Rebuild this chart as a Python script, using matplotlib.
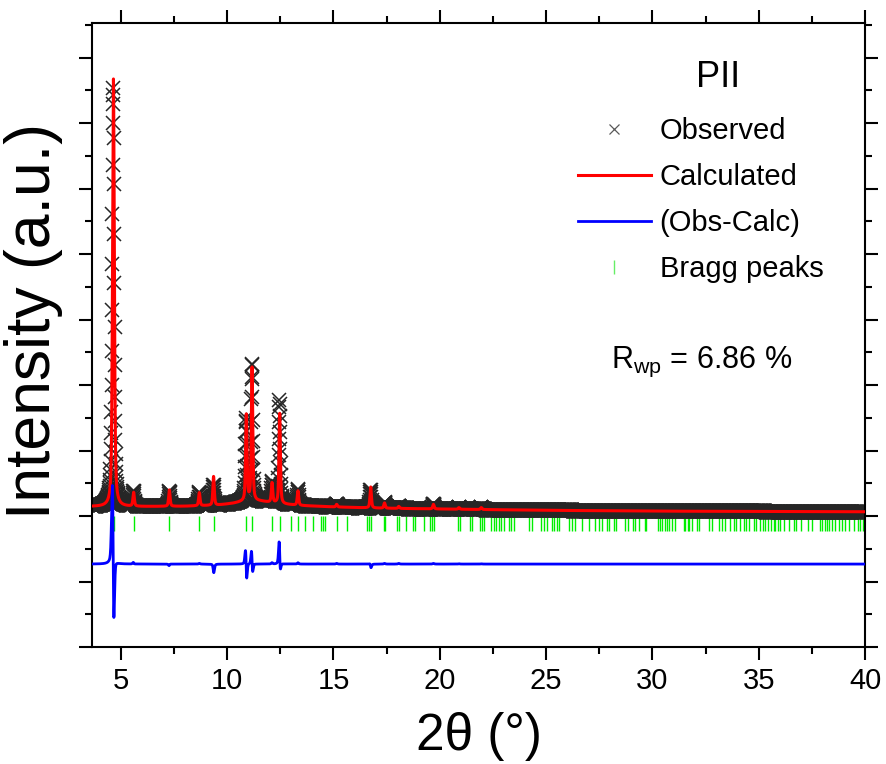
import numpy as np
import matplotlib
matplotlib.use("Agg")
import matplotlib.pyplot as plt
from matplotlib.lines import Line2D
from matplotlib.ticker import MultipleLocator, NullFormatter

plt.rcParams['font.family'] = ['Liberation Sans', 'DejaVu Sans']
plt.rcParams['mathtext.default'] = 'regular'

# scan range and step (degrees 2theta)
two_theta_start = 3.64
two_theta_stop = 40.0
step = 0.01

# refined background, anchor points
bg_x = [3.64, 6.0, 8.0, 9.5, 10.3, 11.0, 11.6, 12.5, 13.5, 15.0, 17.0, 20.0, 25.0, 30.0, 35.0, 40.0]
bg_y = [145, 145, 150, 165, 195, 235, 225, 185, 160, 140, 122, 108, 88, 76, 70, 66]

# calculated reflections: position, height above background, fwhm
calc_pos = [4.65, 5.60, 7.28, 8.69, 9.36, 10.90, 11.17, 12.11, 12.47, 13.33, 15.15,
            16.75, 17.40, 18.07, 19.70, 20.90, 21.95]
calc_height = [6530, 210, 250, 200, 440, 1310, 2030, 300, 1380, 220, 40,
               320, 80, 30, 70, 25, 30]
calc_fwhm = [0.10, 0.08, 0.08, 0.08, 0.08, 0.08, 0.08, 0.08, 0.08, 0.08, 0.08,
             0.08, 0.08, 0.08, 0.08, 0.08, 0.08]

# observed peaks
obs_pos = [4.638, 5.598, 7.282, 8.69, 9.355, 10.89, 11.1655, 12.11, 12.462, 13.33, 15.15,
           16.745, 17.40, 18.07, 19.70, 20.90, 21.95]
obs_height = [6400, 230, 230, 210, 320, 1250, 2090, 320, 1580, 240, 50,
              280, 90, 40, 80, 30, 35]
obs_fwhm = [0.11, 0.08, 0.08, 0.08, 0.08, 0.085, 0.08, 0.08, 0.08, 0.08, 0.08,
            0.08, 0.08, 0.08, 0.08, 0.08, 0.08]

diff_offset = -733

# Bragg reflection positions
bragg_pos = [4.66, 5.60, 7.28, 8.69, 9.36,
             10.90, 11.17, 12.11, 12.47, 13.00, 13.33, 13.67, 14.03, 14.43, 14.51, 14.59,
             15.16, 15.63, 16.58, 16.68, 16.78, 17.36, 17.44, 17.99, 18.07, 18.41, 18.72,
             18.82, 19.24, 19.55, 19.63, 19.71, 20.86, 20.94, 21.43, 21.51, 21.90, 21.98,
             22.06, 22.42, 22.53, 22.64, 22.77, 22.89, 23.00, 23.24, 23.36, 23.47, 24.18,
             24.34, 24.78, 24.89, 25.04, 25.28, 25.36, 25.51, 25.62, 26.09, 26.22, 26.34,
             26.69, 27.03, 27.32, 27.47, 27.63, 27.86, 27.97, 28.18, 28.29, 28.73, 28.85,
             29.07, 29.20, 29.35, 29.64, 29.72, 30.26, 30.37, 30.45, 30.58, 30.69, 30.80,
             30.92, 31.08, 31.47, 31.55, 31.68, 31.74, 31.86, 32.10, 32.21, 32.65, 32.80,
             33.12, 33.27, 33.43, 33.67, 33.82, 33.93, 34.14, 34.29, 34.40, 34.56, 34.76,
             34.87, 35.07, 35.18, 35.31, 35.43, 35.59, 35.70, 35.78, 35.90, 36.01, 36.17,
             36.41, 36.64, 36.75, 37.00, 37.31, 37.53, 37.89, 37.97, 38.10, 38.21, 38.32,
             38.44, 38.57, 38.76, 38.91, 39.07, 39.26, 39.46, 39.67, 39.78, 39.89]


def pseudo_voigt(x, pos, height, fwhm, eta=0.5):
    d = (x - pos) / (fwhm / 2.0)
    lor = 1.0 / (1.0 + d ** 2)
    gau = np.exp(-np.log(2) * d ** 2)
    return height * (eta * lor + (1 - eta) * gau)


tt = np.arange(two_theta_start, two_theta_stop + step / 2, step)
background = np.interp(tt, bg_x, bg_y)

calc = background.copy()
for p, h, w in zip(calc_pos, calc_height, calc_fwhm):
    calc += pseudo_voigt(tt, p, h, w)

obs = background.copy()
for p, h, w in zip(obs_pos, obs_height, obs_fwhm):
    obs += pseudo_voigt(tt, p, h, w)

diff = obs - calc + diff_offset

fig = plt.figure(figsize=(8.86, 7.64), dpi=100)
ax = fig.add_axes([0.1038, 0.1531, 0.8725, 0.8168])

ax.vlines(bragg_pos, -230, 0, colors='#00ee00', lw=1.0, zorder=1)
ax.plot(tt, obs, linestyle='none', marker='x', ms=10, mew=1.1, color='0.15', zorder=2)
ax.plot(tt, calc, color='red', lw=2.2, zorder=3)
ax.plot(tt, diff, color='blue', lw=2.0, zorder=4)

ax.set_xlim(3.64, 40)
ax.set_ylim(-2000, 7530)

ax.xaxis.set_major_locator(MultipleLocator(5))
ax.xaxis.set_minor_locator(MultipleLocator(2.5))
ax.yaxis.set_major_locator(MultipleLocator(1000))
ax.yaxis.set_minor_locator(MultipleLocator(500))
ax.yaxis.set_major_formatter(NullFormatter())

ax.tick_params(which='both', direction='out', top=True, right=True, width=1.5)
ax.tick_params(which='major', length=9.5)
ax.tick_params(which='minor', length=5)
ax.tick_params(axis='x', labelsize=21, pad=5)
for s in ax.spines.values():
    s.set_linewidth(1.5)

ax.set_xlabel('2θ (°)', fontsize=37)
ax.xaxis.set_label_coords(0.5, -0.104)
ax.set_ylabel('Intensity (a.u.)', fontsize=45)
ax.yaxis.set_label_coords(-0.038, 0.522)

handles = [
    Line2D([], [], linestyle='none', marker='x', ms=7, mew=0.9, color='0.35'),
    Line2D([], [], color='red', lw=2.2),
    Line2D([], [], color='blue', lw=2.0),
    Line2D([], [], linestyle='none', marker='|', ms=10, mew=1.0, color='#66ee66'),
]
labels = ['Observed', 'Calculated', '(Obs-Calc)', 'Bragg peaks']
ax.legend(handles, labels, loc='upper left', bbox_to_anchor=(0.6287, 0.849),
          frameon=False, fontsize=21, handlelength=2.5, handletextpad=0.3,
          labelspacing=0.62, borderpad=0, borderaxespad=0)

ax.text(0.81, 0.913, 'PII', transform=ax.transAxes, fontsize=26, ha='center', va='center')
ax.text(0.789, 0.457, 'R$_{wp}$ = 6.86 %', transform=ax.transAxes, fontsize=22,
        ha='center', va='center')

fig.savefig('out.png', dpi=100)
